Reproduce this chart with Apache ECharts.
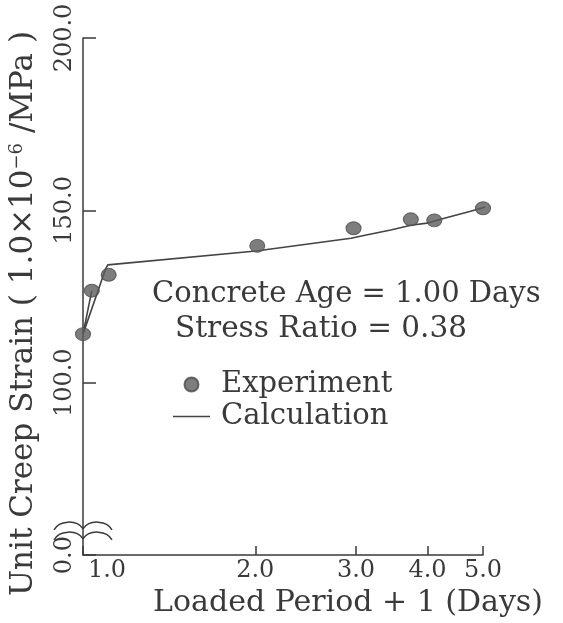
<!DOCTYPE html>
<html>
<head>
<meta charset="utf-8">
<script src="https://cdn.jsdelivr.net/npm/echarts@6/dist/echarts.min.js"></script>
<style>
html,body{margin:0;padding:0;background:#fff;}
#main{width:563px;height:623px;}
</style>
</head>
<body>
<div id="main"></div>
<script>
// ---- data ----
const expX = [1.0, 1.036, 1.109, 2.016, 2.97, 3.74, 4.11, 5.0];
const expY = [114.1, 126.7, 131.3, 139.7, 144.8, 147.4, 147.1, 150.6];
const calcX = [1.036, 1.0, 1.095, 1.105, 2.006, 2.94, 3.11, 3.45, 3.74, 3.99, 4.28, 4.74, 5.32];
const calcY = [126.7, 114.1, 133.0, 134.2, 138.2, 141.9, 142.8, 144.3, 145.7, 146.3, 147.7, 149.7, 152.0];
const xTicks = [1, 2, 3, 4, 5];
const yMin = 50, yMax = 200, yStep = 50;
const yLabelBottom = '0.0';
const noteLine1 = 'Concrete Age = 1.00 Days';
const noteLine2 = 'Stress Ratio = 0.38';
const xName = 'Loaded Period + 1 (Days)';
const yName = 'Unit Creep Strain ( 1.0×10{sup|−6} /MPa )';

const FONT = 'DejaVu Serif';
const INK = '#3a3a3a';

const chart = echarts.init(document.getElementById('main'), null, {renderer: 'canvas'});

const option = {
  backgroundColor: '#fff',
  animation: false,
  grid: {left: 82, right: 80, top: 38, bottom: 60, containLabel: false},
  title: [
    {text: noteLine1, left: 147, top: 275, textStyle: {fontFamily: FONT, fontSize: 29, fontWeight: 'normal', color: INK}},
    {text: noteLine2, left: 170, top: 309, textStyle: {fontFamily: FONT, fontSize: 29.5, fontWeight: 'normal', color: INK}}
  ],
  legend: {
    orient: 'vertical',
    left: 168, top: 365,
    itemWidth: 37, itemHeight: 14, itemGap: 3,
    textStyle: {fontFamily: FONT, fontSize: 29, color: INK, padding: [0, 0, 0, 6]},
    data: [
      {name: 'Experiment', icon: 'circle'},
      {name: 'Calculation', icon: 'path://M0,0 L37,0 L37,1.6 L0,1.6 Z', itemStyle: {color: '#444'}}
    ]
  },
  xAxis: {
    type: 'log', logBase: 10, min: 1, max: 5,
    name: xName, nameLocation: 'middle', nameGap: 30,
    nameTextStyle: {fontFamily: FONT, fontSize: 30, color: INK, padding: [0, 0, 0, 130]},
    axisLine: {show: true, lineStyle: {color: INK, width: 1.5}},
    axisTick: {show: true, inside: true, length: 9, lineStyle: {color: INK, width: 1.5}, customValues: xTicks},
    axisLabel: {
      fontFamily: FONT, fontSize: 24, color: INK, margin: 4,
      customValues: xTicks,
      formatter: function (v) { return v === 1 ? '{first|1.0}' : Number(v).toFixed(1); },
      rich: {first: {fontFamily: FONT, fontSize: 24, color: INK, padding: [0, 0, 0, 48]}}
    },
    splitLine: {show: false}
  },
  yAxis: {
    type: 'value', min: yMin, max: yMax, interval: yStep,
    name: yName, nameLocation: 'middle', nameGap: 44, nameRotate: 90,
    nameTextStyle: {
      fontFamily: FONT, fontSize: 31, color: INK, padding: [0, 34, 0, 0],
      rich: {sup: {fontFamily: FONT, fontSize: 18, color: INK, verticalAlign: 'top', padding: [0, 0, 12, 0]}}
    },
    axisLine: {show: true, lineStyle: {color: INK, width: 1.5}},
    axisTick: {show: true, inside: true, length: 13, lineStyle: {color: INK, width: 1.5}},
    axisLabel: {
      fontFamily: FONT, fontSize: 24, color: INK, rotate: 90, margin: 6,
      formatter: function (v) { return v === yMin ? yLabelBottom : Number(v).toFixed(1); }
    },
    splitLine: {show: false}
  },
  series: [
    {
      name: 'Calculation', type: 'line', clip: false,
      showSymbol: false, symbol: 'none',
      lineStyle: {color: '#444', width: 1.6},
      itemStyle: {color: '#444'},
      data: calcX.map((x, i) => [x, calcY[i]]),
      z: 2
    },
    {
      name: 'Experiment', type: 'scatter', clip: false,
      symbol: 'circle', symbolSize: [15, 13],
      itemStyle: {color: '#5c5c5c', borderColor: '#4a4a4a', borderWidth: 1},
      data: expX.map((x, i) => [x, expY[i]]),
      z: 3
    }
  ]
};
chart.setOption(option);

// axis break symbol, positioned through the chart's own scales
function braceAt(val) {
  const p = chart.convertToPixel({gridIndex: 0}, [1, val]);
  const cx = p[0], cy = p[1];
  const st = {fill: null, stroke: INK, lineWidth: 1.5};
  return [
    {type: 'bezierCurve', z: 10, silent: true, style: st,
     shape: {x1: cx - 29, y1: cy + 5, cpx1: cx - 24, cpy1: cy - 4, cpx2: cx - 7, cpy2: cy - 6, x2: cx, y2: cy + 4}},
    {type: 'bezierCurve', z: 10, silent: true, style: st,
     shape: {x1: cx, y1: cy + 4, cpx1: cx + 7, cpy1: cy - 6, cpx2: cx + 24, cpy2: cy - 4, x2: cx + 29, y2: cy + 5}}
  ];
}
chart.setOption({graphic: braceAt(58.8).concat(braceAt(55.9))});
</script>
</body>
</html>
